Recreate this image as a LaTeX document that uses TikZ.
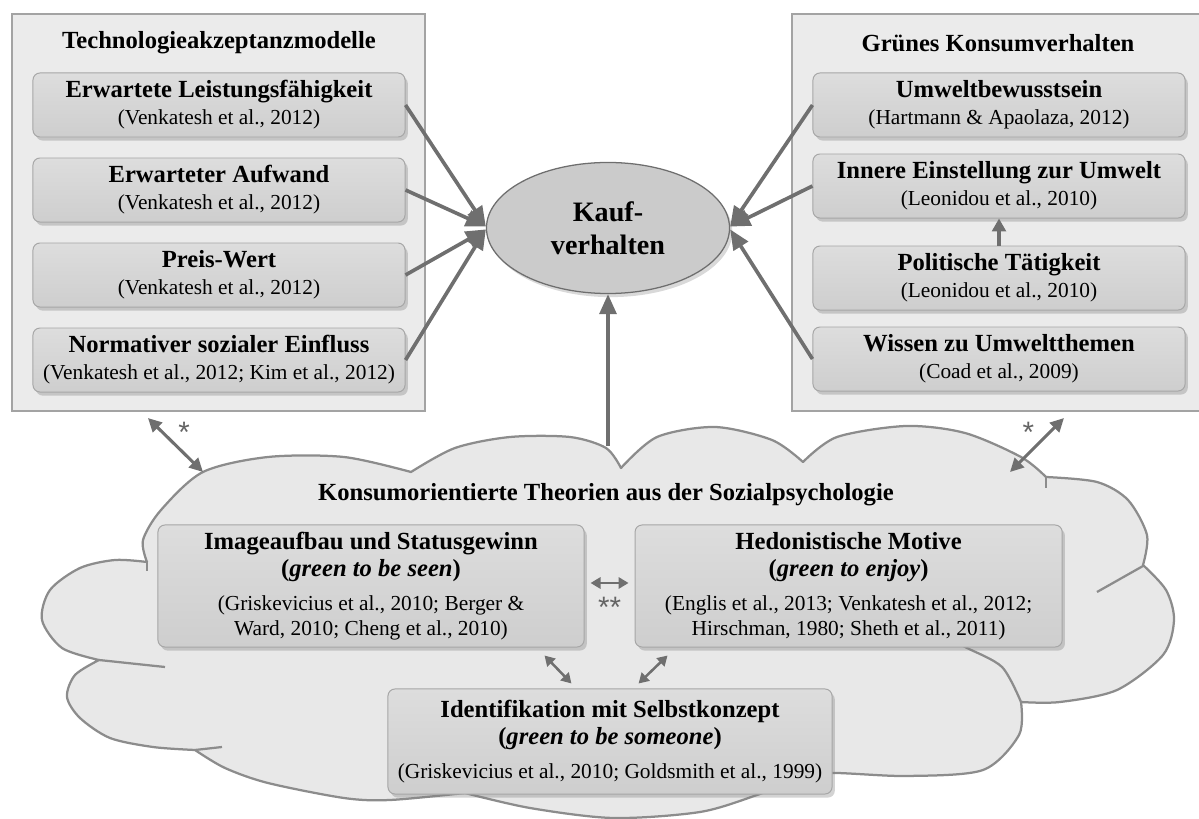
\documentclass[tikz,border=0pt]{standalone}
\usepackage{fontspec}
\setmainfont{Liberation Serif}
\setsansfont{Liberation Sans}
\usetikzlibrary{positioning,arrows.meta,shapes.geometric,shadows,calc}

\definecolor{panelfill}{HTML}{EBEBEB}
\definecolor{panelline}{HTML}{A3A3A3}
\definecolor{boxtop}{HTML}{DDDDDD}
\definecolor{boxbot}{HTML}{CECECE}
\definecolor{boxline}{HTML}{A6A6A6}
\definecolor{ellfill}{HTML}{CBCBCB}
\definecolor{ellline}{HTML}{6E6E6E}
\definecolor{cloudfill}{HTML}{E8E8E8}
\definecolor{cloudline}{HTML}{8C8C8C}
\definecolor{arrowgray}{HTML}{6F6F6F}

\newcommand{\headfont}{\fontsize{17.5}{21}\selectfont\bfseries}
\newcommand{\citefont}{\fontsize{15.2}{17.7}\selectfont}
\newcommand{\itemhead}[1]{{\headfont #1}}

\tikzset{
    >=Stealth,
    panel/.style={rectangle, draw=panelline, fill=panelfill, line width=1.4pt, minimum width=10.325cm, minimum height=9.925cm},
    paneltitle/.style={font=\headfont, inner sep=0pt},
    itembox/.style={rectangle, rounded corners=5pt, draw=boxline, line width=0.7pt, top color=boxtop, bottom color=boxbot,
        drop shadow={shadow xshift=0.7mm, shadow yshift=-0.9mm, opacity=0.35}, align=center, font=\citefont,
        inner sep=0pt, minimum width=9.3cm, minimum height=1.6cm},
    target/.style={ellipse, draw=ellline, fill=ellfill, line width=0.9pt, align=center,
        drop shadow={shadow xshift=0.7mm, shadow yshift=-0.9mm, opacity=0.3},
        font=\fontsize{20}{23.4}\selectfont\bfseries, minimum width=6.075cm, minimum height=3.275cm},
    cloudpart/.style={draw=cloudline, line width=1.6pt, line join=round},
    flow/.style={-{Triangle[length=5mm, width=4.2mm]}, line width=2.6pt, draw=arrowgray},
    shortflow/.style={-{Triangle[length=3.2mm, width=3.4mm]}, line width=2.2pt, draw=arrowgray},
    twoway/.style={{Triangle[length=3.4mm, width=3.3mm]}-{Triangle[length=3.4mm, width=3.3mm]}, line width=2.2pt, draw=arrowgray},
    smallway/.style={{Triangle[length=2.5mm, width=2.8mm]}-{Triangle[length=2.5mm, width=2.8mm]}, line width=1.8pt, draw=arrowgray},
    starlabel/.style={font=\sffamily\fontsize{21}{21}\selectfont, text=arrowgray!90!black, inner sep=1pt}
}

\begin{document}
\begin{tikzpicture}[x=0.025cm, y=-0.025cm, font=\citefont]
    \useasboundingbox (0,0) rectangle (1199,819);

    % outer panels
    \node[panel] (TAM) at (218.5,212.5) {};
    \node[panel] (GK) at (998.5,212.5) {};
    \node[paneltitle] (TAMt) at (219,43) {Technologieakzeptanzmodelle};
    \node[paneltitle] (GKt) at (998,43) {Grünes Konsumverhalten};

    % left column
    \node[itembox] (E1) at (219,105) {\itemhead{Erwartete Leistungsfähigkeit}\\[1.4pt](Venkatesh et al., 2012)};
    \node[itembox, below=5mm of E1] (E2) {\itemhead{Erwarteter Aufwand}\\[1.4pt](Venkatesh et al., 2012)};
    \node[itembox, below=5mm of E2] (E3) {\itemhead{Preis-Wert}\\[1.4pt](Venkatesh et al., 2012)};
    \node[itembox, below=5mm of E3] (E4) {\itemhead{Normativer sozialer Einfluss}\\[1.4pt](Venkatesh et al., 2012; Kim et al., 2012)};

    % right column
    \node[itembox] (U1) at (999,105) {\itemhead{Umweltbewusstsein}\\[1.4pt](Hartmann \& Apaolaza, 2012)};
    \node[itembox, below=4mm of U1] (U2) {\itemhead{Innere Einstellung zur Umwelt}\\[1.4pt](Leonidou et al., 2010)};
    \node[itembox, below=6.75mm of U2] (U3) {\itemhead{Politische Tätigkeit}\\[1.4pt](Leonidou et al., 2010)};
    \node[itembox, below=4mm of U3] (U4) {\itemhead{Wissen zu Umweltthemen}\\[1.4pt](Coad et al., 2009)};

    % cloud
    \path[cloudpart, fill=cloudfill] (147,562)
        -- plot[smooth] coordinates {(147,562) (143,540) (161,510) (203,472) (268,457) (344,457) (411,472)}
        -- plot[smooth] coordinates {(411,472) (455,448) (510,437) (570,437) (606,448) (621,468)}
        -- plot[smooth] coordinates {(621,468) (657,437) (715,427) (772,440) (803,462)}
        -- plot[smooth] coordinates {(803,462) (837,437) (906,426) (965,433) (1021,457) (1046,477)}
        -- plot[smooth] coordinates {(1046,477) (1097,482) (1128,500) (1147,535) (1143,565)}
        -- plot[smooth] coordinates {(1143,565) (1166,590) (1174,620) (1163,655) (1117,690) (1060,702) (1021,702)}
        -- plot[smooth] coordinates {(1021,702) (1019,735) (983,770) (906,776) (826,773) (790,782)}
        -- plot[smooth] coordinates {(790,782) (757,795) (700,812) (613,818) (530,808) (465,793)}
        -- plot[smooth] coordinates {(465,793) (390,800) (344,798) (268,783) (225,768) (195,750)}
        -- plot[smooth] coordinates {(195,750) (153,747) (110,738) (80,718) (67,697) (75,675) (99,660)}
        -- plot[smooth] coordinates {(99,660) (62,648) (42,620) (50,590) (80,568) (115,560) (147,562)}
        -- cycle;
    \draw[cloudpart] (147,562) -- (147,571);
    \draw[cloudpart] (99,660) -- (165,667);
    \draw[cloudpart] (195,750) -- (222,747);
    \draw[cloudpart] (1143,566) -- (1097,592);
    \draw[cloudpart] (1046,477) -- (1046,488);
    \draw[cloudpart] plot[smooth] coordinates {(1021,702) (1002,667) (967,648) (950,640)};
    \node[paneltitle] (KT) at (606,495) {Konsumorientierte Theorien aus der Sozialpsychologie};

    % boxes inside the cloud
    \node[itembox, minimum width=10.65cm, minimum height=3.05cm] (IA) at (371,586)
        {\itemhead{Imageaufbau und Statusgewinn}\\[1.8pt]\itemhead{(\textit{green to be seen})}\\[6.3pt](Griskevicius et al., 2010; Berger \&\\Ward, 2010; Cheng et al., 2010)};
    \node[itembox, minimum width=10.675cm, minimum height=3.05cm, right=1.25cm of IA] (HM)
        {\itemhead{Hedonistische Motive}\\[1.8pt]\itemhead{(\textit{green to enjoy})}\\[6.3pt](Englis et al., 2013; Venkatesh et al., 2012;\\Hirschman, 1980; Sheth et al., 2011)};
    \node[itembox, minimum width=11.1cm, minimum height=2.625cm] (ID) at (610,741.5)
        {\itemhead{Identifikation mit Selbstkonzept}\\[1.8pt]\itemhead{(\textit{green to be someone})}\\[6.3pt](Griskevicius et al., 2010; Goldsmith et al., 1999)};

    % Kaufverhalten
    \node[target] (K) at (608,228) {Kauf-\\verhalten};

    \coordinate (cloudtop) at (608,446);
    \coordinate (cloudL) at (203,472);
    \coordinate (cloudR) at (1010,472);

    \path (E1.east) edge[flow] ([yshift=1pt]K.west)
          (E2.east) edge[flow] ([yshift=1pt]K.west)
          (E3.east) edge[flow] ([yshift=-1pt]K.west)
          (E4.east) edge[flow] ([yshift=-1pt]K.west)
          (U1.west) edge[flow] ([yshift=1pt]K.east)
          (U2.west) edge[flow] ([yshift=1pt]K.east)
          (U4.west) edge[flow] ([yshift=-1pt]K.east)
          (U3.north) edge[shortflow] (U2.south)
          (cloudtop) edge[flow] (K.south);

    \path ($(TAM.south west)+(137,6)$) edge[twoway] node[starlabel, pos=0.5, above right] {*} (cloudL)
          ($(GK.south west)+(273,6)$) edge[twoway] node[starlabel, pos=0.5, above left] {*} (cloudR);

    \path ([yshift=0.75mm]IA.east) edge[smallway, shorten <=1.5mm, shorten >=1.5mm] node[starlabel, below=3mm] {**} ([yshift=0.75mm]HM.west)
          ($(IA.south east)+(-40,8)$) edge[smallway] ($(ID.north west)+(184,-5)$)
          ($(HM.south west)+(33,8)$) edge[smallway] ($(ID.north east)+(-194,-5)$);
\end{tikzpicture}
\end{document}
